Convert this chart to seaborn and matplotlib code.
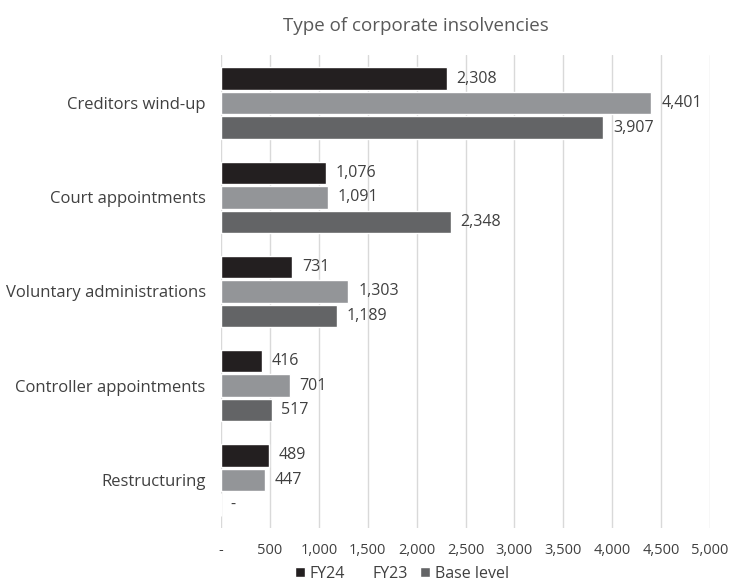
import matplotlib
matplotlib.use("Agg")
import matplotlib.pyplot as plt
from matplotlib.patches import Patch
from matplotlib.ticker import FuncFormatter
import seaborn as sns
import pandas as pd

categories = ["Creditors wind-up", "Court appointments", "Voluntary administrations",
              "Controller appointments", "Restructuring"]
series = ["FY24", "FY23", "Base level"]
fy24 = [2308, 1076, 731, 416, 489]
fy23 = [4401, 1091, 1303, 701, 447]
base_level = [3907, 2348, 1189, 517, 0]
colors = ["#231f20", "#939598", "#636466"]

rows = []
for name, vals in zip(series, [fy24, fy23, base_level]):
    for cat, v in zip(categories, vals):
        rows.append({"category": cat, "series": name, "value": v})
df = pd.DataFrame(rows)

sns.set_theme(style="white")
plt.rcParams["font.family"] = ["Open Sans", "DejaVu Sans"]
text_color = "#404040"

fig = plt.figure(figsize=(7.36, 5.84), dpi=100)
ax = fig.add_axes([221 / 736, 1 - 528 / 584, (710 - 221) / 736, (528 - 55) / 584])

sns.barplot(data=df, y="category", x="value", hue="series", order=categories,
            hue_order=series, palette=colors, orient="h", width=0.78, gap=0.08,
            saturation=1, legend=False, ax=ax)

for container in ax.containers:
    labels = [f"{b.get_width():,.0f}" if b.get_width() > 0 else "-" for b in container]
    ax.bar_label(container, labels=labels, padding=7, fontsize=11.5, color=text_color)

ax.set_xlim(0, 5000)
ax.set_ylim(4.51, -0.51)
ax.set_xticks(range(0, 5001, 500))
ax.xaxis.set_major_formatter(FuncFormatter(lambda v, p: "-" if v == 0 else f"{v:,.0f}"))
ax.grid(axis="x", color="#d9d9d9", linewidth=1)
ax.set_axisbelow(True)
for s in ax.spines.values():
    s.set_visible(False)
ax.tick_params(axis="x", length=0, pad=11, labelsize=10.5, labelcolor=text_color)
ax.tick_params(axis="y", length=0, pad=11, labelsize=12, labelcolor=text_color)
ax.set_xlabel("")
ax.set_ylabel("")

fig.text(416 / 736, 1 - 26 / 584, "Type of corporate insolvencies", ha="center", va="center",
         fontsize=13.5, color="#595959")

handles = [Patch(facecolor=colors[0]), Patch(facecolor="white"), Patch(facecolor=colors[2])]
fig.legend(handles, series, loc="center", bbox_to_anchor=(402 / 736, 1 - 574 / 584),
           ncol=3, frameon=False, fontsize=11.5, labelcolor=text_color,
           handlelength=0.6, handleheight=0.6, handletextpad=0.3, columnspacing=0.8,
           borderpad=0.1)

fig.savefig("out.png", dpi=100)
